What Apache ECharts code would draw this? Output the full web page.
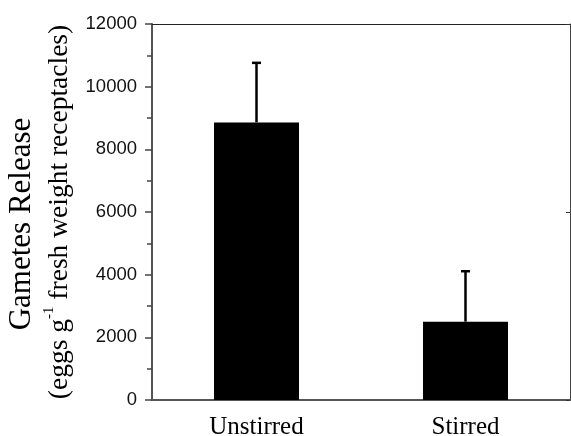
<!DOCTYPE html>
<html>
<head>
<meta charset="utf-8">
<script src="https://cdn.jsdelivr.net/npm/echarts@6/dist/echarts.min.js"></script>
<style>
  html, body { margin: 0; padding: 0; background: #fff; }
  #chart { width: 571px; height: 436px; }
</style>
</head>
<body>
<div id="chart"></div>
<script>
// data
var categories = ["Unstirred", "Stirred"];
var means = [8860, 2500];
var errors = [1900, 1610];
var yTicks = [0, 2000, 4000, 6000, 8000, 10000, 12000];

var chart = echarts.init(document.getElementById("chart"));

var errData = categories.map(function (c, i) {
  return [i, means[i], means[i] + errors[i]];
});

chart.setOption({
  animation: false,
  grid: { left: 152, right: 1, top: 24, bottom: 36, outerBoundsMode: "none" },
  xAxis: [
    {
      // bottom axis, labels + ticks under bars
      type: "category",
      data: categories,
      position: "bottom",
      axisLine: { lineStyle: { color: "#555", width: 2 } },
      axisTick: { alignWithLabel: true, length: 6, lineStyle: { color: "#333", width: 1.5 } },
      axisLabel: {
        margin: 15,
        color: "#000",
        fontFamily: "Liberation Serif",
        fontSize: 25
      }
    },
    {
      // boundary ticks on the bottom
      type: "category",
      data: categories,
      position: "bottom",
      axisLine: { show: false },
      axisTick: { length: 5, lineStyle: { color: "#333", width: 1.5 } },
      axisLabel: { show: false }
    },
    {
      // top frame
      type: "category",
      data: categories,
      position: "top",
      axisLine: { lineStyle: { color: "#222", width: 1 } },
      axisTick: { inside: true, length: 4, lineStyle: { color: "#333" } },
      axisLabel: { show: false }
    }
  ],
  yAxis: [
    {
      type: "value",
      min: 0,
      max: 12000,
      interval: 2000,
      position: "left",
      splitLine: { show: false },
      axisLine: { show: true, lineStyle: { color: "#555", width: 2 } },
      axisTick: { show: true, length: 7, lineStyle: { color: "#444", width: 1.5 } },
      minorTick: { show: true, splitNumber: 2, length: 5, lineStyle: { color: "#444", width: 1.5 } },
      axisLabel: {
        margin: 15,
        color: "#111",
        fontFamily: "Liberation Sans",
        fontSize: 18.5,
        formatter: function (v) { return yTicks.indexOf(v) >= 0 ? String(v) : ""; }
      },
      name: "{a|Gametes Release}\n{b|(eggs g}{s|-1}{b| fresh weight receptacles)}",
      nameLocation: "middle",
      nameRotate: 90,
      nameGap: 74,
      nameTextStyle: {
        color: "#000",
        fontFamily: "Liberation Serif",
        rich: {
          a: { fontFamily: "Liberation Serif", fontSize: 31, lineHeight: 40, color: "#000", padding: [0, 24, 0, 0] },
          b: { fontFamily: "Liberation Serif", fontSize: 27.5, lineHeight: 36, color: "#000" },
          s: { fontFamily: "Liberation Serif", fontSize: 15, lineHeight: 36, verticalAlign: "top", color: "#000" }
        }
      }
    },
    {
      // right frame
      type: "value",
      min: 0,
      max: 12000,
      interval: 6000,
      position: "right",
      splitLine: { show: false },
      axisLine: { show: true, lineStyle: { color: "#444", width: 1 } },
      axisTick: { show: true, inside: true, length: 4, lineStyle: { color: "#333" } },
      axisLabel: { show: false }
    }
  ],
  series: [
    {
      type: "bar",
      data: means,
      barWidth: 85,
      itemStyle: { color: "#000" }
    },
    {
      type: "custom",
      data: errData,
      z: 3,
      renderItem: function (params, api) {
        var base = api.coord([api.value(0), api.value(1)]);
        var top = api.coord([api.value(0), api.value(2)]);
        return {
          type: "group",
          children: [
            {
              type: "line",
              shape: { x1: base[0], y1: base[1], x2: top[0], y2: top[1] },
              style: { stroke: "#000", lineWidth: 2.5 }
            },
            {
              type: "line",
              shape: { x1: top[0] - 4.5, y1: top[1], x2: top[0] + 4.5, y2: top[1] },
              style: { stroke: "#000", lineWidth: 2.5 }
            }
          ]
        };
      }
    }
  ]
});
</script>
</body>
</html>
